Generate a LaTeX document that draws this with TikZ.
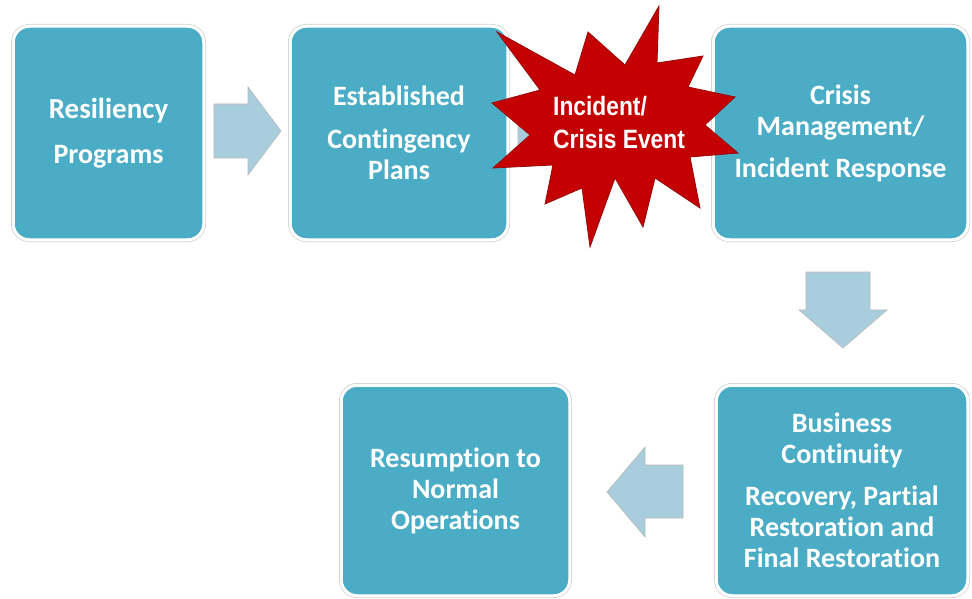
\documentclass[tikz,border=0pt]{standalone}
\usepackage{fontspec}
\setmainfont[Ligatures=NoCommon]{Carlito}
\newfontfamily\burstfont{Liberation Sans}
\definecolor{boxteal}{RGB}{75,172,198}
\definecolor{arrowblue}{RGB}{168,206,221}
\definecolor{burstred}{RGB}{196,0,0}
\definecolor{burstedge}{RGB}{150,10,10}
\begin{document}
\begin{tikzpicture}[x=1pt,y=-1pt,
  stage/.style={rectangle, rounded corners=16pt, fill=boxteal,
    draw=white, line width=3pt,
    preaction={draw=gray!35, line width=4.5pt},
    text=white, align=center, inner sep=0pt,
    font=\bfseries\fontsize{28}{31}\selectfont},
  flowarrow/.style={fill=arrowblue, draw=gray!55, line width=0.6pt, line join=miter},
  burst/.style={fill=burstred, draw=burstedge, line width=0.8pt, line join=miter}]
\useasboundingbox (0,0) rectangle (972,599);

% process stages
\node[stage, minimum width=190.5pt, minimum height=213.5pt] (resil) at (108.5,133)
  {\fontsize{29}{31}\selectfont Resiliency\\[14pt]Programs};
\node[stage, minimum width=217.5pt, minimum height=213.5pt] (plans) at (399,133)
  {Established\\[12pt]Contingency\\Plans};
\node[stage, minimum width=254.5pt, minimum height=213.5pt] (crisis) at (840.5,133)
  {Crisis\\Management/\\[11pt]Incident Response};
\node[stage, minimum width=251.5pt, minimum height=210.5pt] (cont) at (842,490.5)
  {Business\\Continuity\\[11pt]Recovery, Partial\\Restoration and\\Final Restoration};
\node[stage, minimum width=228.5pt, minimum height=210.5pt] (resume) at (455.5,490.5)
  {Resumption to\\Normal\\Operations};

% block arrows between the stages
\path[flowarrow] (214,104) -- (248,104) -- (248,87) -- (281,131) -- (248,175)
  -- (248,158) -- (214,158) -- cycle;
\path[flowarrow] (518,104) -- (552,104) -- (552,87) -- (585,131) -- (552,175)
  -- (552,158) -- (518,158) -- cycle;
\path[flowarrow] (806,272) -- (870,272) -- (870,310) -- (887,310) -- (843,348)
  -- (799,310) -- (806,310) -- cycle;
\path[flowarrow] (683,465) -- (645,465) -- (645,447) -- (607,492) -- (645,537)
  -- (645,518) -- (683,518) -- cycle;

% the incident starburst
\path[burst] (497,32) -- (575,75) -- (588,32) -- (625,65) -- (659,6) -- (657,63)
  -- (703,56) -- (688,87) -- (735,97) -- (705,125) -- (738,153) -- (690,157)
  -- (700,208) -- (655,178) -- (643,227) -- (615,178) -- (590,247) -- (582,188)
  -- (545,204) -- (553,165) -- (493,168) -- (530,135) -- (492,103) -- (540,90)
  -- cycle;
\node[anchor=base west, inner sep=0pt, text=white,
  font=\burstfont\bfseries\fontsize{26.5}{33}\selectfont] (event) at (553,116)
  {\scalebox{0.86}[1]{\begin{tabular}[t]{@{}l@{}}Incident/\\Crisis Event\end{tabular}}};
\end{tikzpicture}
\end{document}
